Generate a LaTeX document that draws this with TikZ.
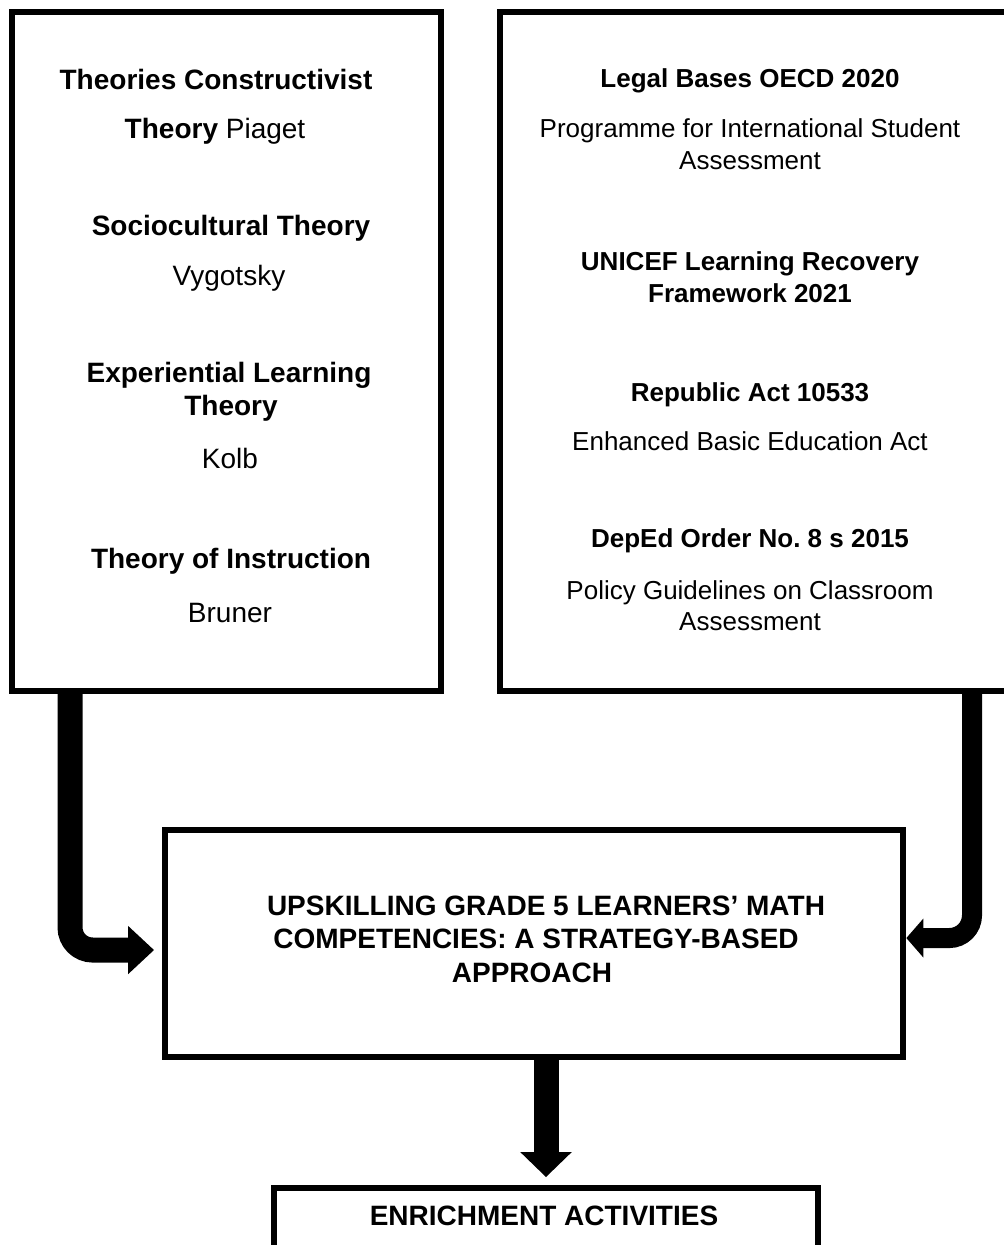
\documentclass[tikz,border=0pt]{standalone}
\usepackage{fontspec}
\setmainfont{Liberation Sans}
\usetikzlibrary{arrows.meta}

\begin{document}
\begin{tikzpicture}[x=0.75pt, y=-0.75pt,
    box/.style={draw, line width=4pt, inner sep=0pt},
    lhead/.style={font=\bfseries\fontsize{21}{25}\selectfont, anchor=base},
    ltext/.style={font=\fontsize{21}{25}\selectfont, anchor=base},
    rhead/.style={font=\bfseries\fontsize{19.5}{24}\selectfont, anchor=base},
    rtext/.style={font=\fontsize{19.5}{24}\selectfont, anchor=base},
    mhead/.style={font=\bfseries\fontsize{21}{25}\selectfont, anchor=base},
    bigarrow/.style={line width=18.75pt, rounded corners=17pt}]
            \useasboundingbox (0,0) rectangle (1003,1245);

            % boxes
            \node[box, minimum width=321.75pt, minimum height=509.25pt] (lbox) at (226.5,351.5) {};
            \node[box, minimum width=382.5pt, minimum height=509.25pt] (rbox) at (755,351.5) {};
            \node[box, minimum width=553.5pt, minimum height=170.25pt] (mbox) at (534,943.5) {};
            \node[box, minimum width=408pt, minimum height=61.5pt] (ebox) at (546,1229) {};

            % theories
            \node[lhead] (th1) at (216,90)   {Theories Constructivist};
            \node[ltext] (au1) at (215,139)  {\textbf{Theory} Piaget};
            \node[lhead] (th2) at (231,235)  {Sociocultural Theory};
            \node[ltext] (au2) at (229,285)  {Vygotsky};
            \node[lhead] (th3) at (229,382)  {Experiential Learning};
            \node[lhead] (th3b) at (231,415) {Theory};
            \node[ltext] (au3) at (230,468)  {Kolb};
            \node[lhead] (th4) at (231,568)  {Theory of Instruction};
            \node[ltext] (au4) at (230,622)  {Bruner};

            % legal bases
            \node[rhead] (lb1) at (750,88)   {Legal Bases OECD 2020};
            \node[rtext] (ds1) at (750,138)  {Programme for International Student};
            \node[rtext] (ds1b) at (750,170) {Assessment};
            \node[rhead] (lb2) at (750,270)  {UNICEF Learning Recovery};
            \node[rhead] (lb2b) at (750,302) {Framework 2021};
            \node[rhead] (lb3) at (750,401)  {Republic Act 10533};
            \node[rtext] (ds3) at (750,450)  {Enhanced Basic Education Act};
            \node[rhead] (lb4) at (750,547)  {DepEd Order No.\ 8 s 2015};
            \node[rtext] (ds4) at (750,599)  {Policy Guidelines on Classroom};
            \node[rtext] (ds4b) at (750,630) {Assessment};

            % title and output
            \node[mhead] (ti1) at (546,915)  {UPSKILLING GRADE 5 LEARNERS’ MATH};
            \node[mhead] (ti2) at (536,948)  {COMPETENCIES: A STRATEGY-BASED};
            \node[mhead] (ti3) at (532,982)  {APPROACH};
            \node[mhead] (out) at (544,1225) {ENRICHMENT ACTIVITIES};

            % arrows
            \draw[bigarrow, -{Triangle[length=19.5pt, width=35pt]}, shorten >=6.2pt]
                ([xshift=45.5pt]lbox.south west) |- ([yshift=-4.9pt]mbox.west);
            \draw[bigarrow, line width=15pt, -{Triangle[length=12.75pt, width=28.5pt]}, shorten >=0.5pt]
                ([xshift=356pt]rbox.south west) |- ([yshift=4.1pt]mbox.east);
            \draw[line width=18.75pt, -{Triangle[length=18.75pt, width=37.5pt]}, shorten >=6.2pt]
                (mbox.south -| ebox.north) -- (ebox.north);
\end{tikzpicture}
\end{document}
